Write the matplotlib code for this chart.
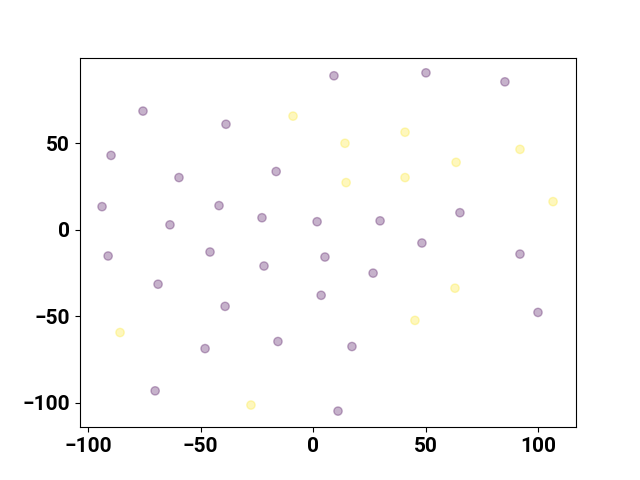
import matplotlib
matplotlib.use("Agg")
import matplotlib.pyplot as plt

plt.rcParams['font.family'] = ['Roboto', 'DejaVu Sans']
plt.rcParams['font.weight'] = 'bold'

# class 0 points (purple)
x0 = [9.3, 50.2, 85.3, -75.6, -38.7, -89.8, -59.6, -16.4, -93.8, -41.8,
      -22.7, -63.6, 1.8, 29.8, 65.3, -91.1, -45.8, 5.3, 48.4, -21.8,
      26.7, 92.0, -68.9, 3.6, -39.1, 100.0, -15.6, 17.3, -48.0, -70.2, 11.1]
y0 = [89.0, 90.7, 85.5, 68.6, 61.0, 43.0, 30.2, 33.7, 13.4, 14.0,
      7.0, 2.9, 4.7, 5.2, 9.9, -15.1, -12.8, -15.7, -7.6, -20.9,
      -25.0, -14.0, -31.4, -37.8, -44.2, -47.7, -64.5, -67.4, -68.6, -93.0, -104.7]
# class 1 points (yellow)
x1 = [-8.9, 14.2, 40.9, 63.6, 92.0, 14.7, 40.9, 106.7, -85.8, 63.1, 45.3, -27.6]
y1 = [65.7, 50.0, 56.4, 39.0, 46.5, 27.3, 30.2, 16.3, -59.3, -33.7, -52.3, -101.2]

xs = x0 + x1
ys = y0 + y1
labels = [0] * len(x0) + [1] * len(x1)

fig, ax = plt.subplots(figsize=(6.4, 4.8), dpi=100)
ax.scatter(xs, ys, c=labels, cmap='viridis', alpha=0.3)
ax.set_xlim(-103.6, 116.9)
ax.set_ylim(-114, 99.5)
ax.tick_params(labelsize=15)

plt.savefig("out.png", dpi=100)
